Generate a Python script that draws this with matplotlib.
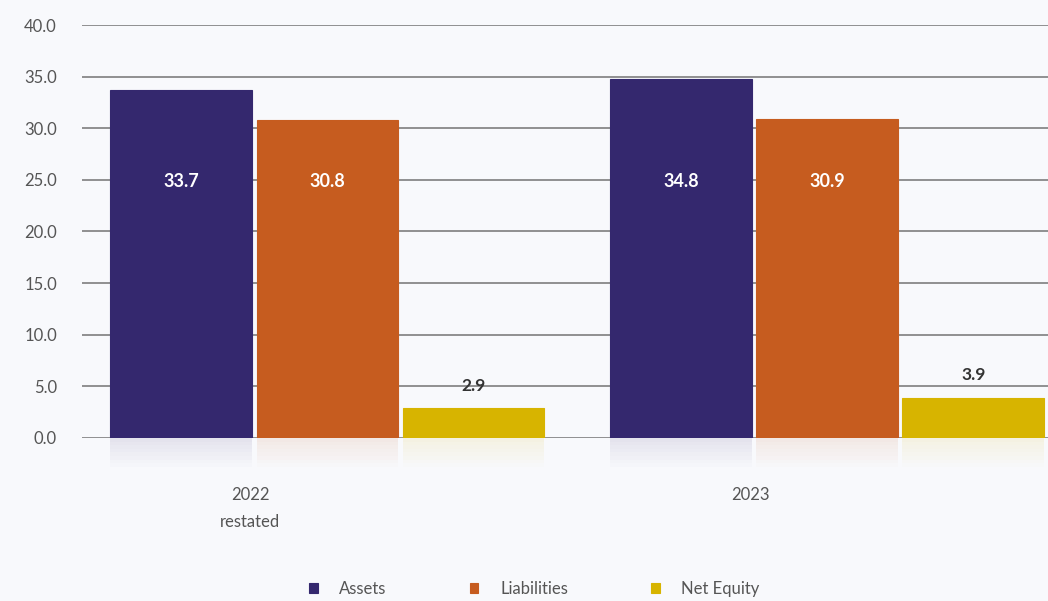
import matplotlib.pyplot as plt
import numpy as np

years = ['2022\nrestated', '2023']
series = ['Assets', 'Liabilities', 'Net Equity']
assets = [33.7, 34.8]
liabilities = [30.8, 30.9]
net_equity = [2.9, 3.9]
colors = ['#34286e', '#c65c1f', '#d7b400']

plt.rcParams['font.family'] = ['Lato', 'DejaVu Sans']

fig = plt.figure(figsize=(10.48, 6.01), dpi=100, facecolor='#f8f9fc')
ax = fig.add_axes([82 / 1048, 1 - 438 / 601, 1 - 82 / 1048, 413 / 601])
ax.set_facecolor('#f8f9fc')

x = np.arange(len(years))
width = 0.284
offsets = [-0.138, 0.155, 0.447]
values = [assets, liabilities, net_equity]

for vals, off, col, name in zip(values, offsets, colors, series):
    ax.bar(x + off, vals, width, color=col, label=name, zorder=3,
           edgecolor=col, linewidth=0.8)
    # faded reflection under the baseline
    for k in range(8):
        ax.bar(x + off, -0.35, width, bottom=-0.35 * k, color=col,
               alpha=0.10 * (1 - k / 8), zorder=2, linewidth=0, clip_on=False)

for i in range(len(years)):
    ax.text(x[i] + offsets[0], 24.8, f'{assets[i]:.1f}', color='white',
            fontsize=13, fontweight='bold', ha='center', va='center', zorder=4)
    ax.text(x[i] + offsets[1], 24.8, f'{liabilities[i]:.1f}', color='white',
            fontsize=13, fontweight='bold', ha='center', va='center', zorder=4)
    ax.text(x[i] + offsets[2], net_equity[i] + 1.4, f'{net_equity[i]:.1f}',
            color='#333333', fontsize=12.5, fontweight='bold', ha='center',
            va='bottom', zorder=4)

ax.set_ylim(0, 40)
ax.set_yticks(np.arange(0, 41, 5))
ax.set_yticklabels([f'{v:.1f}' for v in np.arange(0, 41, 5)])
ax.set_xlim(-0.336, 1.596)
ax.set_xticks(x)
ax.set_xticklabels(years, linespacing=1.9)
ax.grid(axis='y', color='#7e7e7e', linewidth=1.2, zorder=1)
for s in ax.spines.values():
    s.set_visible(False)
ax.tick_params(axis='y', length=0, pad=18, labelsize=12, labelcolor='#555555')
ax.tick_params(axis='x', length=0, pad=35, labelsize=12, labelcolor='#555555')

fig.legend(loc='lower center', bbox_to_anchor=(0.51, -0.018), ncol=3, frameon=False,
           fontsize=12, labelcolor='#555555', handlelength=0.5, handleheight=0.5,
           columnspacing=5.0, handletextpad=1.3)

fig.savefig('out.png', dpi=100, facecolor=fig.get_facecolor())
